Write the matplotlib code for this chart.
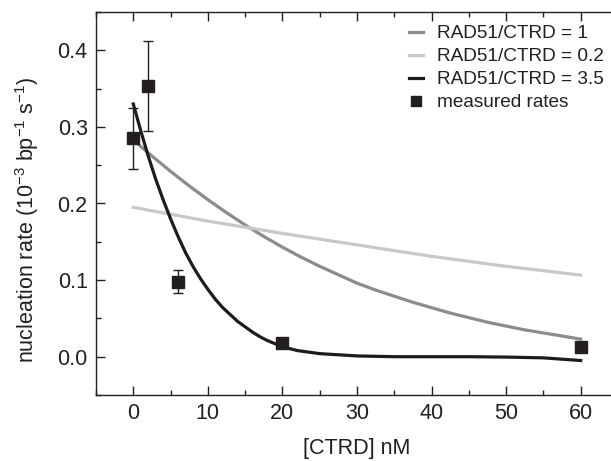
import matplotlib
matplotlib.use("Agg")
import matplotlib.pyplot as plt
from matplotlib.ticker import MultipleLocator

plt.rcParams['font.family'] = ['Liberation Sans', 'DejaVu Sans']
plt.rcParams['mathtext.fontset'] = 'custom'
plt.rcParams['mathtext.rm'] = 'Liberation Sans'
plt.rcParams['mathtext.it'] = 'Liberation Sans'
plt.rcParams['mathtext.default'] = 'regular'

# measured rates
meas_x = [0, 2, 6, 20, 60]
meas_y = [0.285, 0.353, 0.098, 0.0175, 0.0126]
meas_err = [0.040, 0.0585, 0.015, 0.0, 0.0]

# model curve RAD51/CTRD = 1
r1_x = [0, 2.5, 5, 7.5, 10, 12.5, 15, 17.5, 20, 22.5, 25, 27.5, 30, 32.5, 35,
        37.5, 40, 42.5, 45, 47.5, 50, 52.5, 55, 57.5, 60]
r1_y = [0.283, 0.262, 0.242, 0.223, 0.205, 0.188, 0.172, 0.157, 0.143, 0.130,
        0.118, 0.107, 0.096, 0.087, 0.079, 0.071, 0.064, 0.057, 0.051, 0.045,
        0.040, 0.035, 0.031, 0.027, 0.023]

# model curve RAD51/CTRD = 0.2
r02_x = [0, 10, 20, 30, 40, 50, 60]
r02_y = [0.195, 0.177, 0.161, 0.146, 0.131, 0.118, 0.1065]

# model curve RAD51/CTRD = 3.5
r35_x = [0, 1, 2, 3, 4, 5, 6, 7, 8, 9, 10, 11, 12, 13, 14, 15, 16, 17, 18,
         19, 20, 22, 25, 30, 35, 40, 45, 50, 55, 60]
r35_y = [0.330, 0.295, 0.262, 0.232, 0.205, 0.180, 0.157, 0.136, 0.118,
         0.102, 0.088, 0.075, 0.064, 0.055, 0.046, 0.039, 0.032, 0.026,
         0.021, 0.017, 0.013, 0.008, 0.004, 0.001, 0.0, 0.0, 0.0, -0.0005,
         -0.0015, -0.005]

fig = plt.figure(figsize=(6.11, 4.61), dpi=100)
ax = fig.add_axes([96/611, 66/461, 522/611, 383/461])

fs = 15.5
fs_leg = 13.7
ink = '#231f20'
ax.plot(r1_x, r1_y, color='#8c8c8c', lw=2.3, label='RAD51/CTRD = 1', zorder=2)
ax.plot(r02_x, r02_y, color='#c8c8c8', lw=2.3, label='RAD51/CTRD = 0.2', zorder=2)
ax.plot(r35_x, r35_y, color='#1c1c1c', lw=2.3, label='RAD51/CTRD = 3.5', zorder=3)
ax.errorbar(meas_x, meas_y, yerr=meas_err, fmt='none', ecolor=ink,
            elinewidth=1.0, capsize=3.5, capthick=1.0, zorder=4)
ax.plot(meas_x, meas_y, 's', color=ink, markersize=8, ls='none',
        label='measured rates', zorder=5)

ax.set_xlim(-5, 65)
ax.set_ylim(-0.05, 0.45)
ax.xaxis.set_major_locator(MultipleLocator(10))
ax.xaxis.set_minor_locator(MultipleLocator(5))
ax.yaxis.set_major_locator(MultipleLocator(0.1))
ax.yaxis.set_minor_locator(MultipleLocator(0.05))
ax.set_xticks([0, 10, 20, 30, 40, 50, 60])
ax.set_yticks([0.0, 0.1, 0.2, 0.3, 0.4])
ax.set_yticklabels(['0.0', '0.1', '0.2', '0.3', '0.4'])
ax.tick_params(which='both', direction='in', top=True, right=False,
               labelsize=fs, width=1.0, colors=ink, pad=6)
ax.tick_params(which='major', length=6.5)
ax.tick_params(which='minor', length=3.5)
for s in ax.spines.values():
    s.set_linewidth(1.0)
    s.set_color(ink)

ax.set_xlabel('[CTRD] nM', fontsize=fs, color=ink)
ax.xaxis.set_label_coords(0.5, -0.113)
ax.set_ylabel('nucleation rate (10$^{-3}$ bp$^{-1}$ s$^{-1}$)', fontsize=fs,
              color=ink)
ax.yaxis.set_label_coords(-0.105, 0.458)

leg = ax.legend(loc='upper left', bbox_to_anchor=(409/611, 1 - 25/461),
                bbox_transform=fig.transFigure, frameon=False, fontsize=fs_leg,
                borderpad=0, borderaxespad=0, handlelength=0.75,
                handletextpad=0.7, labelspacing=0.3, markerscale=0.95)
for t in leg.get_texts():
    t.set_color(ink)

fig.savefig('out.png', dpi=100)
